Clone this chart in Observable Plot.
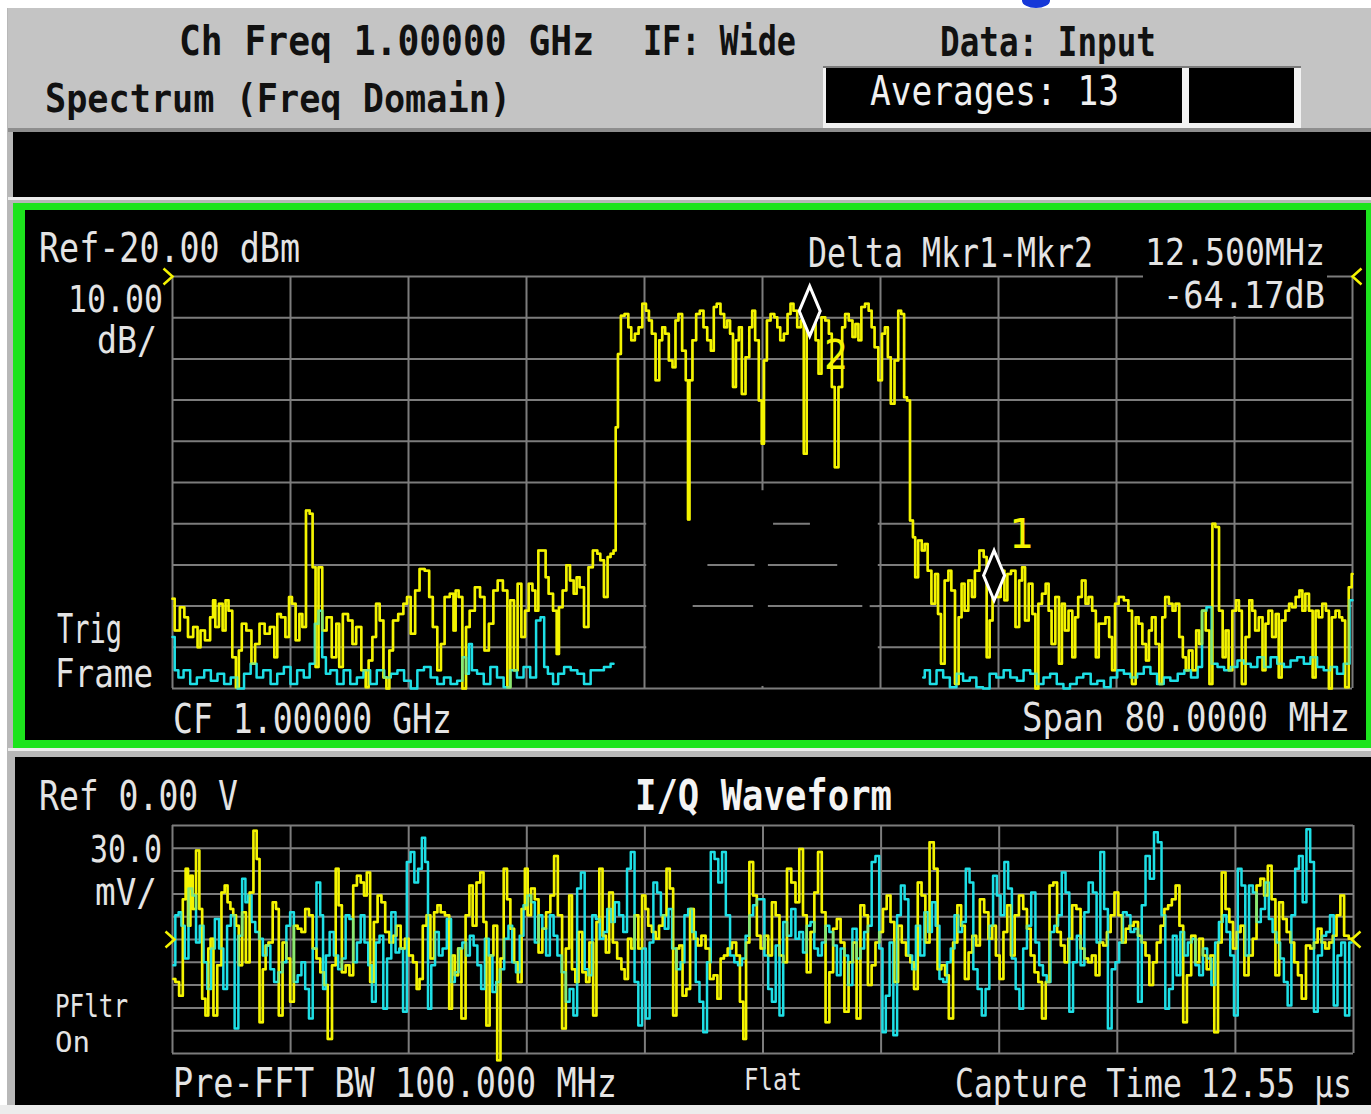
<!DOCTYPE html>
<html>
<head>
<meta charset="utf-8">
<script src="https://cdn.jsdelivr.net/npm/d3@7"></script>
<script src="https://cdn.jsdelivr.net/npm/@observablehq/plot@0.6"></script>
<style>
html,body{margin:0;padding:0;background:#fff;}
#page{position:relative;width:1371px;height:1114px;overflow:hidden;background:#fff;}
.abs{position:absolute;box-sizing:border-box;}
</style>
</head>
<body>
<div id="page">
  <div class="abs" style="left:7px;top:8px;width:1364px;height:1100px;background:#b8b8b8"></div>
  <div class="abs" style="left:8px;top:8px;width:1363px;height:120px;background:#c4c4c4"></div>
  <div class="abs" style="left:1022px;top:-7px;width:28px;height:15px;border-radius:50%;background:#1638d8"></div>
  <div class="abs" style="left:823px;top:66px;width:478px;height:62px;background:#f2f2f2"></div>
  <div class="abs" style="left:823px;top:66px;width:478px;height:2px;background:#7a7a7a"></div>
  <div class="abs" style="left:826px;top:68px;width:356px;height:55px;background:#000"></div>
  <div class="abs" style="left:1189px;top:68px;width:105px;height:55px;background:#000"></div>
  <div class="abs" style="left:8px;top:128px;width:1363px;height:4px;background:#8e8e8e"></div>
  <div class="abs" style="left:13px;top:132px;width:1358px;height:65px;background:#000"></div>
  <div class="abs" style="left:8px;top:197px;width:1363px;height:3px;background:#ececec"></div>
  <div class="abs" style="left:13px;top:203px;width:1358px;height:545px;background:#000;border-style:solid;border-color:#1de41d;border-width:7px 5px 8px 12px"></div>
  <div class="abs" style="left:8px;top:748px;width:1363px;height:3px;background:#ececec"></div>
  <div class="abs" style="left:15px;top:757px;width:1356px;height:348px;background:#000"></div>
  <div class="abs" style="left:0px;top:1105px;width:1371px;height:9px;background:#ececec"></div>
  <div id="spec" class="abs" style="left:25px;top:210px"></div>
  <div id="iq" class="abs" style="left:15px;top:757px"></div>
</div>
<script>
// ---------------- DATA ----------------
// Spectrum: frequency offset from CF (MHz), level (dBm). CF 1 GHz, span 80 MHz, ref -20 dBm, 10 dB/div
const specFreqSpan = [-40, 40];
const specLevelRange = [-120, -20];
const specYellow = [
[-40.0,-98.2],[-39.7,-105.9],[-39.3,-100.3],[-39.1,-102.7],[-38.8,-107.5],[-38.4,-105.1],[-38.2,-110.0],[-38.0,-105.9],[-37.6,-108.3],[-37.3,-102.7],[-37.2,-98.6],[-37.0,-105.1],[-36.7,-99.4],[-36.5,-105.9],[-36.3,-98.6],[-36.1,-101.1],[-35.8,-112.4],[-35.6,-119.7],[-35.4,-110.8],[-35.2,-104.3],[-34.8,-105.9],[-34.5,-114.0],[-34.3,-109.2],[-33.9,-104.3],[-33.6,-106.7],[-33.2,-105.1],[-33.0,-112.4],[-32.8,-101.9],[-32.5,-102.7],[-32.2,-107.5],[-32.0,-97.8],[-31.8,-99.4],[-31.5,-108.3],[-31.3,-101.9],[-31.1,-105.1],[-30.8,-76.8],[-30.6,-77.6],[-30.4,-90.6],[-30.2,-114.8],[-30.0,-90.6],[-29.7,-105.9],[-29.4,-102.7],[-29.0,-112.4],[-28.8,-104.3],[-28.6,-114.8],[-28.3,-101.9],[-27.9,-103.5],[-27.7,-109.2],[-27.4,-105.1],[-27.0,-115.6],[-26.8,-119.7],[-26.6,-113.2],[-26.3,-107.5],[-26.1,-99.4],[-25.8,-103.5],[-25.6,-117.3],[-25.4,-120],[-25.2,-110.8],[-24.9,-103.5],[-24.5,-101.9],[-24.2,-99.4],[-24.0,-97.8],[-23.7,-106.7],[-23.4,-96.2],[-23.1,-91.0],[-22.7,-91.4],[-22.5,-97.8],[-22.2,-105.1],[-21.9,-115.6],[-21.7,-109.2],[-21.4,-97.8],[-21.0,-97.0],[-20.9,-105.9],[-20.7,-96.2],[-20.5,-97.8],[-20.2,-120],[-20.0,-105.1],[-19.7,-101.1],[-19.3,-95.4],[-19.0,-97.8],[-18.7,-110.8],[-18.4,-104.3],[-18.1,-96.2],[-17.8,-93.8],[-17.4,-96.2],[-17.2,-119.7],[-17.0,-98.6],[-16.7,-115.6],[-16.5,-94.6],[-16.2,-107.5],[-16.0,-101.1],[-15.7,-94.6],[-15.5,-96.2],[-15.3,-101.1],[-15.1,-86.5],[-14.8,-86.5],[-14.6,-93.0],[-14.4,-97.0],[-14.0,-101.1],[-13.9,-111.6],[-13.7,-100.3],[-13.4,-96.2],[-13.2,-90.1],[-12.9,-93.8],[-12.7,-97.0],[-12.5,-93.0],[-12.3,-95.4],[-11.9,-105.1],[-11.7,-90.6],[-11.3,-86.5],[-11.1,-87.3],[-10.9,-88.9],[-10.6,-97.8],[-10.4,-88.1],[-10.2,-87.3],[-10.0,-86.5],
[-9.9,-56.6],[-9.7,-38.8],[-9.5,-29.5],[-9.2,-29.1],[-9.0,-32.3],[-8.8,-35.5],[-8.5,-33.9],[-8.3,-32.3],[-8.0,-26.6],[-7.8,-28.3],[-7.6,-30.7],[-7.4,-33.9],[-7.1,-45.2],[-6.9,-35.5],[-6.7,-32.3],[-6.5,-33.9],[-6.2,-40.4],[-6.0,-42.0],[-5.8,-30.7],[-5.6,-29.1],[-5.3,-38.0],[-5.1,-45.2],[-5.0,-79.0],[-4.9,-45.2],[-4.6,-35.5],[-4.4,-29.1],[-4.1,-28.3],[-3.9,-32.3],[-3.6,-35.5],[-3.4,-38.0],[-3.2,-27.4],[-3.0,-26.6],[-2.7,-29.1],[-2.5,-32.3],[-2.3,-30.7],[-2.1,-33.9],[-1.9,-46.8],[-1.7,-35.5],[-1.5,-32.3],[-1.3,-48.5],[-1.0,-39.6],[-0.8,-32.3],[-0.6,-28.3],[-0.4,-35.5],[-0.1,-50.1],[0.0,-60.6],[0.2,-40.4],[0.4,-30.7],[0.7,-29.1],[0.9,-29.9],[1.1,-32.3],[1.3,-35.5],[1.6,-33.9],[1.8,-29.1],[2.0,-26.6],[2.2,-28.3],[2.5,-32.3],[2.7,-30.7],[2.9,-63.0],[3.1,-30.5],[3.2,-28.4],[3.35,-30.5],[3.5,-30.7],[3.7,-35.5],[3.9,-43.6],[4.1,-29.9],[4.4,-30.7],[4.6,-33.9],[4.8,-46.8],[5.0,-66.3],[5.3,-46.8],[5.5,-32.3],[5.7,-29.1],[6.0,-30.7],[6.2,-34.7],[6.4,-31.5],[6.6,-35.5],[6.8,-27.4],[7.1,-26.6],[7.3,-28.3],[7.5,-32.3],[7.7,-37.2],[8.0,-45.2],[8.2,-33.9],[8.4,-32.3],[8.6,-39.6],[8.8,-50.9],[9.1,-40.4],[9.3,-28.3],[9.5,-29.1],[9.7,-49.3],[9.9,-50.1],
[10.1,-79.2],[10.3,-83.3],[10.4,-93.0],[10.7,-84.1],[10.9,-86.5],[11.1,-84.9],[11.3,-91.4],[11.6,-99.4],[11.8,-92.2],[12.0,-101.9],[12.2,-114.0],[12.5,-93.8],[12.7,-91.4],[12.9,-96.2],[13.2,-118.9],[13.4,-102.7],[13.6,-94.6],[13.8,-101.1],[14.1,-93.8],[14.3,-97.8],[14.5,-91.4],[14.9,-86.5],[15.1,-88.1],[15.3,-112.4],[15.5,-103.5],[15.7,-92.6],[15.8,-90.6],[16.0,-97.8],[16.3,-91.4],[16.5,-98.6],[16.7,-92.2],[17.0,-91.4],[17.3,-105.1],[17.5,-93.8],[17.7,-90.6],[17.9,-103.5],[18.2,-94.6],[18.4,-101.9],[18.6,-120],[18.8,-99.4],[19.1,-97.0],[19.3,-94.6],[19.5,-101.1],[19.7,-109.2],[20.0,-97.8],[20.2,-114.0],[20.4,-99.4],[20.6,-105.9],[20.9,-101.1],[21.1,-112.4],[21.3,-102.7],[21.5,-97.8],[21.8,-93.8],[22.0,-99.4],[22.2,-97.8],[22.5,-101.1],[22.7,-112.4],[22.9,-104.3],[23.1,-104.3],[23.4,-102.7],[23.6,-107.5],[23.8,-115.6],[24.0,-99.4],[24.3,-97.8],[24.7,-98.6],[24.9,-101.1],[25.2,-118.9],[25.4,-102.7],[25.6,-104.3],[25.9,-109.2],[26.1,-113.2],[26.3,-105.9],[26.5,-102.7],[26.8,-109.2],[27.0,-118.9],[27.2,-102.7],[27.4,-97.8],[27.7,-99.4],[27.9,-101.1],[28.1,-99.4],[28.4,-107.5],[28.6,-112.4],[28.8,-115.6],[29.0,-110.8],[29.3,-115.6],[29.5,-105.9],[29.7,-109.2],[29.9,-101.1],[30.2,-105.9],[30.4,-118.9],[30.6,-80.0],[30.8,-80.8],[31.1,-101.1],[31.3,-112.4],[31.5,-105.9],[31.7,-115.6],[32.0,-101.1],[32.2,-98.6],[32.4,-101.1],[32.6,-118.9],[32.9,-107.5],[33.1,-98.6],[33.3,-101.1],[33.5,-105.9],[33.8,-102.7],[34.0,-115.6],[34.2,-104.3],[34.4,-101.1],[34.7,-107.5],[34.9,-101.9],[35.1,-117.3],[35.3,-103.5],[35.6,-101.1],[35.8,-99.4],[36.0,-100.3],[36.3,-97.8],[36.5,-96.2],[36.7,-101.1],[36.9,-97.0],[37.2,-101.1],[37.4,-117.3],[37.6,-101.1],[37.8,-102.7],[38.1,-99.4],[38.3,-101.1],[38.5,-120],[38.7,-102.7],[39.0,-101.1],[39.2,-102.7],[39.4,-103.5],[39.6,-119.7],[39.9,-95.4],[40.0,-92.2]
];
const specCyanLow = [
[-40.0,-107.5],[-39.7,-115.6],[-39.5,-117.3],[-39.0,-115.6],[-38.6,-118.9],[-38.1,-117.3],[-37.6,-115.6],[-37.2,-118.1],[-36.7,-116.4],[-36.3,-118.9],[-35.8,-117.3],[-35.4,-120],[-34.9,-116.4],[-34.5,-114.0],[-34.1,-117.3],[-33.6,-115.6],[-33.1,-118.9],[-32.7,-116.4],[-32.2,-114.8],[-31.8,-118.9],[-31.3,-115.6],[-30.9,-117.3],[-30.5,-114.0],[-30.2,-104.3],[-30.0,-101.1],[-29.7,-112.4],[-29.5,-116.4],[-29.1,-115.6],[-28.6,-118.9],[-28.2,-115.6],[-27.7,-118.9],[-27.3,-117.3],[-26.8,-115.6],[-26.4,-118.9],[-25.9,-115.6],[-25.4,-117.3],[-25.0,-116.4],[-24.5,-115.6],[-24.1,-118.1],[-23.6,-120],[-23.2,-115.6],[-22.7,-114.8],[-22.3,-117.3],[-21.8,-118.9],[-21.4,-117.3],[-20.9,-118.9],[-20.5,-118.1],[-20.2,-112.4],[-20.0,-116.4],[-19.8,-109.2],[-19.6,-115.6],[-19.1,-116.4],[-18.7,-118.9],[-18.2,-114.8],[-17.8,-117.3],[-17.3,-119.7],[-16.9,-115.6],[-16.4,-117.3],[-16.0,-114.8],[-15.5,-117.3],[-15.2,-103.5],[-14.9,-102.7],[-14.7,-114.8],[-14.4,-116.4],[-14.0,-118.9],[-13.7,-116.4],[-13.2,-114.8],[-12.8,-115.6],[-12.3,-116.4],[-11.9,-118.9],[-11.4,-115.6],[-11.0,-115.6],[-10.5,-114.8],[-10.1,-114.0]
];
const specCyanHigh = [
[10.9,-117.3],[11.1,-115.6],[11.6,-118.9],[12.0,-115.6],[12.5,-117.3],[12.9,-119.7],[13.4,-116.4],[13.8,-118.1],[14.3,-117.3],[14.7,-119.7],[15.2,-120],[15.6,-116.4],[16.1,-117.3],[16.6,-115.6],[17.0,-117.3],[17.5,-118.1],[17.9,-115.6],[18.4,-116.4],[18.8,-118.9],[19.3,-117.3],[19.7,-116.4],[20.2,-118.9],[20.6,-120],[21.1,-118.9],[21.5,-117.3],[22.0,-116.4],[22.5,-118.9],[22.9,-118.1],[23.4,-119.7],[23.8,-117.3],[24.3,-115.6],[24.7,-116.4],[25.2,-117.3],[25.6,-116.4],[26.1,-114.8],[26.5,-116.4],[27.0,-118.9],[27.4,-117.3],[27.9,-118.1],[28.4,-116.4],[28.8,-115.6],[29.3,-117.3],[29.7,-114.8],[29.9,-101.1],[30.3,-100.3],[30.6,-114.0],[31.1,-114.8],[31.5,-115.6],[32.0,-114.8],[32.4,-113.2],[32.9,-114.0],[33.3,-114.8],[33.8,-112.4],[34.2,-114.8],[34.7,-112.4],[35.1,-114.0],[35.6,-114.8],[36.0,-113.2],[36.5,-112.4],[36.9,-114.0],[37.4,-112.4],[37.8,-114.8],[38.3,-115.6],[38.7,-114.8],[39.2,-116.4],[39.6,-114.0],[40.0,-98.6]
];
// Markers (offset MHz, dBm): delta Mkr1-Mkr2 = 12.5 MHz, -64.17 dB
const markerIds = ["2", "1"];
const markerOffsets = [3.2, 15.7];
const markerLevels = [-28.4, -92.57];
// Grid segments lost in the screen photo: [x1, x2, y1, y2] mask and surviving fragments [level, x1, x2]
const gridMask = [[-7.85, 7.85, -119.5, -72]];
const gridFragments = [[-80, 0.75, 3.25], [-90, -3.7, -0.5], [-90, 0.4, 5.1], [-100, -4.7, -0.6], [-100, 0.4, 6.8], [-100, 7.3, 8]];

// I/Q waveform: time (µs), amplitude (mV). Ref 0 V centre, 30 mV/div, capture 12.55 µs
const iqTimeSpan = [0, 12.55];
const iqRange = [-150, 150];
const iqRefLevel = 0;
const iTrace = [
[0.01,-52],[0.05,-56],[0.09,-74],[0.13,53],[0.15,93],[0.18,18],[0.20,84],[0.23,40],[0.27,117],[0.30,40],[0.33,-78],[0.37,-100],[0.39,-12],[0.42,1],[0.45,-100],[0.50,-34],[0.54,62],[0.57,71],[0.60,49],[0.63,40],[0.66,32],[0.69,18],[0.72,-34],[0.76,36],[0.80,-30],[0.84,62],[0.88,143],[0.91,106],[0.94,-109],[0.98,-39],[1.00,-8],[1.04,-4],[1.09,49],[1.11,40],[1.15,-100],[1.19,-4],[1.23,-25],[1.27,-82],[1.31,18],[1.35,14],[1.39,10],[1.43,40],[1.47,32],[1.51,-12],[1.55,-25],[1.59,-43],[1.63,-60],[1.67,-131],[1.72,-34],[1.75,93],[1.78,45],[1.82,-43],[1.86,-34],[1.90,-47],[1.94,71],[1.98,84],[2.02,75],[2.05,58],[2.08,88],[2.12,-56],[2.16,23],[2.20,58],[2.24,49],[2.28,10],[2.33,-4],[2.36,5],[2.40,18],[2.45,-12],[2.49,1],[2.53,-21],[2.58,-30],[2.61,-65],[2.64,-52],[2.68,18],[2.72,32],[2.76,-25],[2.80,36],[2.83,45],[2.87,36],[2.92,32],[2.96,-91],[2.98,-21],[3.02,-47],[3.05,-12],[3.09,-104],[3.14,32],[3.17,71],[3.21,18],[3.25,75],[3.29,88],[3.32,23],[3.35,-113],[3.39,-21],[3.43,18],[3.47,-159],[3.50,-25],[3.54,93],[3.57,53],[3.61,14],[3.65,-30],[3.69,-56],[3.73,40],[3.76,93],[3.79,32],[3.83,67],[3.87,53],[3.91,-17],[3.95,14],[3.99,36],[4.04,58],[4.07,110],[4.12,32],[4.16,-117],[4.20,-12],[4.23,58],[4.26,-39],[4.30,-56],[4.33,10],[4.38,-43],[4.41,-56],[4.45,-4],[4.49,-100],[4.52,23],[4.55,93],[4.59,5],[4.62,-17],[4.66,62],[4.70,-4],[4.75,-25],[4.79,-39],[4.82,-52],[4.86,1],[4.89,-12],[4.93,32],[4.97,-12],[5.01,58],[5.04,40],[5.07,18],[5.12,10],[5.15,1],[5.19,18],[5.23,32],[5.27,93],[5.30,67],[5.34,-100],[5.37,-12],[5.40,-8],[5.44,-74],[5.48,-65],[5.52,40],[5.56,1],[5.60,-8],[5.64,5],[5.69,-12],[5.73,-52],[5.77,-47],[5.81,-78],[5.84,-25],[5.88,-21],[5.92,-12],[5.97,-4],[6.01,-21],[6.05,-82],[6.08,-131],[6.11,-4],[6.15,102],[6.19,58],[6.23,5],
[6.27,-12],[6.31,5],[6.35,-21],[6.39,49],[6.43,32],[6.47,-21],[6.51,-30],[6.55,93],[6.60,75],[6.64,49],[6.68,119],[6.72,32],[6.76,-43],[6.80,10],[6.84,62],[6.88,115],[6.92,36],[6.96,-109],[7.00,-43],[7.04,14],[7.08,27],[7.12,-4],[7.16,-95],[7.21,-30],[7.25,-4],[7.29,-104],[7.33,45],[7.37,32],[7.41,-60],[7.45,-34],[7.49,-4],[7.53,10],[7.57,40],[7.61,58],[7.65,23],[7.69,-56],[7.73,18],[7.77,-4],[7.82,-21],[7.86,-30],[7.90,-65],[7.94,75],[7.98,58],[8.02,-4],[8.07,128],[8.11,93],[8.15,-39],[8.19,-34],[8.23,-47],[8.27,-104],[8.32,-4],[8.36,45],[8.40,18],[8.44,-52],[8.48,-17],[8.52,5],[8.56,-8],[8.60,53],[8.65,36],[8.69,1],[8.73,18],[8.77,-21],[8.81,-52],[8.85,10],[8.89,45],[8.93,-21],[8.97,32],[9.02,58],[9.06,40],[9.10,14],[9.14,-21],[9.18,-43],[9.22,-56],[9.26,-104],[9.30,-56],[9.34,71],[9.38,75],[9.42,10],[9.46,-8],[9.50,-30],[9.54,1],[9.58,45],[9.63,40],[9.67,-12],[9.71,-25],[9.75,-30],[9.79,-21],[9.83,-47],[9.87,-4],[9.91,-8],[9.95,10],[9.99,32],[10.03,62],[10.07,32],[10.11,-4],[10.15,14],[10.19,18],[10.24,23],[10.28,5],[10.32,-4],[10.36,-21],[10.40,-60],[10.44,-30],[10.48,-4],[10.52,18],[10.56,40],[10.60,45],[10.64,53],[10.68,71],[10.72,18],[10.76,-109],[10.80,-47],[10.85,5],[10.89,-30],[10.93,1],[10.97,-21],[11.01,-39],[11.05,-21],[11.09,-122],[11.13,-4],[11.17,88],[11.21,40],[11.25,23],[11.29,-12],[11.33,10],[11.37,18],[11.41,-47],[11.46,-21],[11.50,1],[11.54,71],[11.58,80],[11.62,58],[11.66,97],[11.70,53],[11.74,-47],[11.78,49],[11.82,27],[11.86,10],[11.90,-4],[11.94,-30],[11.98,-47],[12.02,-78],[12.07,-8],[12.11,-12],[12.15,-4],[12.19,14],[12.23,-4],[12.27,-12],[12.31,-4],[12.35,5],[12.39,32],[12.43,58],[12.47,5],[12.53,1]
];
const qTrace = [
[0.01,-34],[0.05,32],[0.08,36],[0.11,18],[0.15,-25],[0.19,67],[0.23,58],[0.27,-4],[0.31,18],[0.35,-30],[0.39,-65],[0.43,-12],[0.47,27],[0.52,-12],[0.56,-65],[0.60,18],[0.64,32],[0.68,-117],[0.72,5],[0.76,80],[0.79,49],[0.82,58],[0.86,23],[0.90,10],[0.94,1],[0.98,-21],[1.02,-8],[1.06,-39],[1.10,-56],[1.15,-43],[1.19,-30],[1.23,18],[1.27,36],[1.31,-56],[1.35,-47],[1.39,-30],[1.43,-65],[1.47,-104],[1.51,-12],[1.55,75],[1.59,32],[1.61,-65],[1.65,-21],[1.69,10],[1.74,-21],[1.78,-39],[1.82,-25],[1.86,32],[1.90,27],[1.94,-30],[1.98,-4],[2.02,32],[2.06,-4],[2.10,-34],[2.14,-82],[2.18,-4],[2.22,5],[2.26,-91],[2.30,-25],[2.35,36],[2.39,-17],[2.43,-12],[2.47,-95],[2.51,102],[2.55,115],[2.59,75],[2.63,93],[2.67,134],[2.70,102],[2.73,-91],[2.77,-34],[2.81,10],[2.85,-21],[2.89,-12],[2.94,27],[2.98,-56],[3.02,-43],[3.06,-12],[3.10,-4],[3.14,-21],[3.18,5],[3.22,-8],[3.26,-34],[3.30,-65],[3.34,1],[3.38,-21],[3.42,-69],[3.46,-56],[3.50,-39],[3.55,1],[3.59,18],[3.63,-30],[3.67,-43],[3.71,5],[3.75,45],[3.79,58],[3.83,49],[3.87,-4],[3.91,32],[3.95,14],[3.99,-21],[4.03,32],[4.07,5],[4.11,-21],[4.16,-43],[4.20,-82],[4.24,-65],[4.28,-100],[4.32,67],[4.36,88],[4.40,-39],[4.44,-47],[4.48,32],[4.52,27],[4.56,1],[4.60,10],[4.64,40],[4.68,23],[4.72,49],[4.77,32],[4.81,10],[4.85,93],[4.89,115],[4.93,-56],[4.97,-113],[5.01,-12],[5.05,-104],[5.09,-4],[5.13,75],[5.17,62],[5.21,32],[5.25,14],[5.29,40],[5.33,-12],[5.38,-39],[5.42,-30],[5.46,32],[5.50,40],[5.54,10],[5.58,-56],[5.62,-82],[5.66,-122],[5.70,-30],[5.74,115],[5.78,106],[5.82,75],[5.86,115],[5.90,32],[5.95,-21],[5.99,-30],[6.03,-34],[6.07,-25],[6.11,5],[6.15,32],[6.19,45],[6.23,53],
[6.27,53],[6.31,-21],[6.35,-65],[6.39,-82],[6.43,-8],[6.47,-100],[6.51,23],[6.55,5],[6.60,40],[6.64,1],[6.68,10],[6.72,-17],[6.76,18],[6.80,23],[6.84,-12],[6.88,-21],[6.92,-4],[6.96,18],[7.00,10],[7.04,-8],[7.08,-47],[7.12,-12],[7.16,-21],[7.20,-60],[7.25,14],[7.29,-25],[7.33,-12],[7.37,10],[7.41,18],[7.45,102],[7.49,110],[7.53,-12],[7.56,-122],[7.60,-74],[7.64,-4],[7.68,-126],[7.72,32],[7.76,71],[7.80,53],[7.84,-21],[7.88,-39],[7.92,18],[7.97,-21],[8.01,36],[8.05,10],[8.09,49],[8.13,18],[8.17,-52],[8.21,-56],[8.25,-30],[8.29,-12],[8.33,32],[8.37,10],[8.41,23],[8.45,93],[8.49,75],[8.53,-39],[8.58,-65],[8.62,-100],[8.66,-65],[8.70,18],[8.74,84],[8.78,58],[8.82,32],[8.86,102],[8.90,67],[8.94,-25],[8.98,-65],[9.02,-91],[9.06,-12],[9.10,18],[9.15,62],[9.19,-4],[9.23,-34],[9.27,-47],[9.31,-56],[9.35,10],[9.39,18],[9.43,32],[9.47,88],[9.51,62],[9.55,-95],[9.59,-30],[9.63,5],[9.67,-34],[9.71,36],[9.76,75],[9.80,62],[9.84,-4],[9.88,115],[9.92,40],[9.96,-117],[10.00,-39],[10.04,-30],[10.08,-4],[10.12,36],[10.16,32],[10.20,10],[10.24,14],[10.28,-82],[10.32,45],[10.36,110],[10.41,80],[10.45,141],[10.49,128],[10.53,32],[10.57,-91],[10.61,-65],[10.65,5],[10.69,-47],[10.73,10],[10.77,-21],[10.81,-4],[10.85,1],[10.89,-34],[10.93,-47],[10.97,-12],[11.02,-25],[11.06,-60],[11.10,-4],[11.14,23],[11.18,32],[11.22,10],[11.26,-21],[11.30,-100],[11.34,93],[11.38,71],[11.42,-21],[11.46,71],[11.50,62],[11.54,23],[11.59,40],[11.63,75],[11.67,27],[11.71,10],[11.75,-4],[11.79,-25],[11.83,-56],[11.87,-87],[11.91,32],[11.95,93],[11.99,110],[12.03,49],[12.07,145],[12.11,102],[12.15,-95],[12.19,-21],[12.24,5],[12.28,10],[12.32,32],[12.36,-87],[12.40,-21],[12.44,-4],[12.48,-100],[12.53,-4]
];

// ---------------- STYLE ----------------
const gridStroke = "#7c7c7c";
const yellow = "#f4f400";
const cyan = "#1edfe6";
const mono = "DejaVu Sans Mono";

const tallDiamond = {
  draw(ctx) {
    const w = 10.5, h = 25;
    ctx.moveTo(0, -h); ctx.lineTo(w, 0); ctx.lineTo(0, h); ctx.lineTo(-w, 0); ctx.closePath();
  }
};
const chevronRight = {draw(ctx) { ctx.moveTo(-4, -8); ctx.lineTo(5, 0); ctx.lineTo(-4, 8); }};
const chevronLeft = {draw(ctx) { ctx.moveTo(4, -8); ctx.lineTo(-5, 0); ctx.lineTo(4, 8); }};

const markers = markerIds.map((id, i) => ({id, f: markerOffsets[i], l: markerLevels[i]}));
const maskRows = gridMask.map(([x1, x2, y1, y2]) => ({x1, x2, y1, y2}));

const specXTicks = d3.range(11).map(i => specFreqSpan[0] + i * (specFreqSpan[1] - specFreqSpan[0]) / 10);
const specYTicks = d3.range(11).map(i => specLevelRange[0] + i * (specLevelRange[1] - specLevelRange[0]) / 10);
const trace = (data, stroke, extra = {}) =>
  Plot.line(data, {x: d => d[0], y: d => d[1], stroke, strokeWidth: 2.5, curve: "step", ...extra});

const spec = Plot.plot({
  width: 1341, height: 530,
  marginLeft: 147, marginRight: 14, marginTop: 66, marginBottom: 52,
  x: {domain: specFreqSpan, axis: null},
  y: {domain: specLevelRange, axis: null},
  style: {background: "#000", fontFamily: mono, overflow: "visible"},
  marks: [
    Plot.ruleX(specXTicks, {stroke: gridStroke, strokeWidth: 2}),
    Plot.ruleY(specYTicks, {stroke: gridStroke, strokeWidth: 2}),
    Plot.rect(maskRows, {x1: "x1", x2: "x2", y1: "y1", y2: "y2", fill: "#000"}),
    Plot.ruleY(gridFragments, {y: d => d[0], x1: d => d[1], x2: d => d[2], stroke: gridStroke, strokeWidth: 2}),
    trace(specYellow, yellow),
    trace(specCyanLow, cyan),
    trace(specCyanHigh, cyan),
    trace(specYellow, yellow, {strokeOpacity: 0.5}),
    Plot.dot(markers, {x: "f", y: "l", symbol: tallDiamond, fill: "#000", stroke: "#fff", strokeWidth: 3}),
    Plot.text(markers.filter(d => d.id === "2"), {x: "f", y: "l", text: "id", dx: 26, dy: 45, fill: yellow, fontSize: 40, fontFamily: mono}),
    Plot.text(markers.filter(d => d.id === "1"), {x: "f", y: "l", text: "id", dx: 27, dy: -40, fill: yellow, fontSize: 40, fontFamily: mono}),
    Plot.dot([specLevelRange[1]], {x: () => specFreqSpan[0], y: d => d, symbol: chevronRight, fill: "none", stroke: yellow, strokeWidth: 2.5, dx: -5}),
    Plot.dot([specLevelRange[1]], {x: () => specFreqSpan[1], y: d => d, symbol: chevronLeft, fill: "none", stroke: yellow, strokeWidth: 2.5, dx: 5})
  ]
});
document.getElementById("spec").appendChild(spec);

const iqXTicks = d3.range(11).map(i => iqTimeSpan[0] + i * (iqTimeSpan[1] - iqTimeSpan[0]) / 10);
const iqYTicks = d3.range(11).map(i => iqRange[0] + i * (iqRange[1] - iqRange[0]) / 10);

const iq = Plot.plot({
  width: 1355, height: 348,
  marginLeft: 157, marginRight: 17, marginTop: 68, marginBottom: 52,
  x: {domain: iqTimeSpan, axis: null},
  y: {domain: iqRange, axis: null},
  style: {background: "#000", fontFamily: mono, overflow: "visible"},
  marks: [
    Plot.ruleX(iqXTicks, {stroke: gridStroke, strokeWidth: 2}),
    Plot.ruleY(iqYTicks, {stroke: gridStroke, strokeWidth: 2}),
    trace(iTrace, yellow),
    trace(qTrace, cyan),
    trace(iTrace, yellow, {strokeOpacity: 0.5}),
    Plot.dot([iqRefLevel], {x: () => iqTimeSpan[0], y: d => d, symbol: chevronRight, fill: "none", stroke: yellow, strokeWidth: 2.5, dx: -3}),
    Plot.dot([iqRefLevel], {x: () => iqTimeSpan[1], y: d => d, symbol: chevronLeft, fill: "none", stroke: yellow, strokeWidth: 2.5, dx: 3})
  ]
});
document.getElementById("iq").appendChild(iq);

// ---------------- TEXT OVERLAY ----------------
// Each group is one <text>; glyphs are stretched vertically (k) to match the tall screen font.
const ink = "#111", scr = "#e4e4e4";
const labelGroups = [
  {c: ink, b: true, k: 1.14, lines: [{t: "Ch Freq 1.00000 GHz", x: 179, y: 55, w: 415, cap: 30}]},
  {c: ink, b: true, k: 1.14, lines: [{t: "IF: Wide", x: 643, y: 55, w: 153, cap: 30}]},
  {c: ink, b: true, k: 1.14, lines: [{t: "Data: Input", x: 940, y: 56, w: 216, cap: 30}]},
  {c: ink, b: true, k: 1.14, lines: [{t: "Spectrum (Freq Domain)", x: 45, y: 112, w: 466, cap: 29}]},
  {c: "#f0f0f0", k: 1.25, lines: [{t: "Averages: 13", x: 870, y: 105, w: 249, cap: 30}]},
  {c: scr, k: 1.25, lines: [{t: "Ref-20.00 dBm", x: 39, y: 262, w: 261, cap: 30}]},
  {c: scr, k: 1.25, lines: [{t: "10.00", x: 68, y: 312, w: 95, cap: 27}]},
  {c: scr, k: 1.25, lines: [{t: "dB/", x: 97, y: 353, w: 60, cap: 27}]},
  {c: scr, k: 1.25, lines: [{t: "Delta Mkr1-Mkr2", x: 808, y: 267, w: 285, cap: 30}]},
  {c: scr, k: 1.25, lines: [{t: "12.500MHz", x: 1145, y: 265, w: 180, cap: 27}]},
  {c: scr, k: 1.25, lines: [{t: "-64.17dB", x: 1163, y: 308, w: 162, cap: 27}]},
  {c: scr, k: 1.25, lines: [{t: "Trig", x: 57, y: 643, w: 65, cap: 30}]},
  {c: scr, k: 1.25, lines: [{t: "Frame", x: 55, y: 687, w: 98, cap: 29}]},
  {c: scr, k: 1.25, lines: [{t: "CF 1.00000 GHz", x: 173, y: 733, w: 279, cap: 30}]},
  {c: scr, k: 1.25, lines: [{t: "Span  80.0000 MHz", x: 1022, y: 731, w: 328, cap: 29}]},
  {c: scr, k: 1.25, lines: [{t: "Ref 0.00  V", x: 39, y: 810, w: 199, cap: 30}]},
  {c: "#f4f4f4", b: true, k: 1.25, lines: [{t: "I/Q Waveform", x: 635, y: 810, w: 257, cap: 31}]},
  {c: scr, k: 1.25, lines: [{t: "30.0", x: 90, y: 862, w: 72, cap: 27}]},
  {c: scr, k: 1.25, lines: [{t: "mV/", x: 95, y: 905, w: 62, cap: 27}]},
  {c: scr, k: 1.25, lines: [{t: "PFltr", x: 55, y: 1017, w: 73, cap: 23}]},
  {c: scr, k: 1.25, lines: [{t: "On", x: 55, y: 1052, w: 35, cap: 21}]},
  {c: scr, k: 1.25, lines: [{t: "Pre-FFT BW 100.000 MHz", x: 173, y: 1097, w: 444, cap: 30}]},
  {c: scr, k: 1.25, lines: [{t: "Flat", x: 744, y: 1090, w: 58, cap: 22}]},
  {c: scr, k: 1.25, lines: [{t: "Capture Time 12.55 µs", x: 955, y: 1097, w: 397, cap: 29}]}
];
const overlay = d3.select("#page").append("svg")
  .attr("width", 1371).attr("height", 1114)
  .style("position", "absolute").style("left", "0px").style("top", "0px");
// marker readout backing box (hides the graticule behind it, as on the instrument screen)
overlay.append("rect").attr("x", 1143).attr("y", 270).attr("width", 184).attr("height", 46).attr("fill", "#000");
const texts = overlay.selectAll("text.lbl").data(labelGroups).join("text")
  .attr("class", "lbl")
  .attr("transform", d => `scale(1,${d.k})`)
  .attr("font-family", mono)
  .attr("font-weight", d => d.b ? "bold" : "normal")
  .attr("fill", d => d.c);
texts.each(function(g) {
  d3.select(this).selectAll("tspan").data(g.lines).join("tspan")
    .attr("x", d => d.x)
    .attr("y", d => (d.y / g.k).toFixed(2))
    .attr("font-size", d => (d.cap / (0.729 * g.k)).toFixed(2))
    .attr("textLength", d => d.w)
    .attr("lengthAdjust", "spacingAndGlyphs")
    .text(d => d.t);
});
</script>
</body>
</html>
